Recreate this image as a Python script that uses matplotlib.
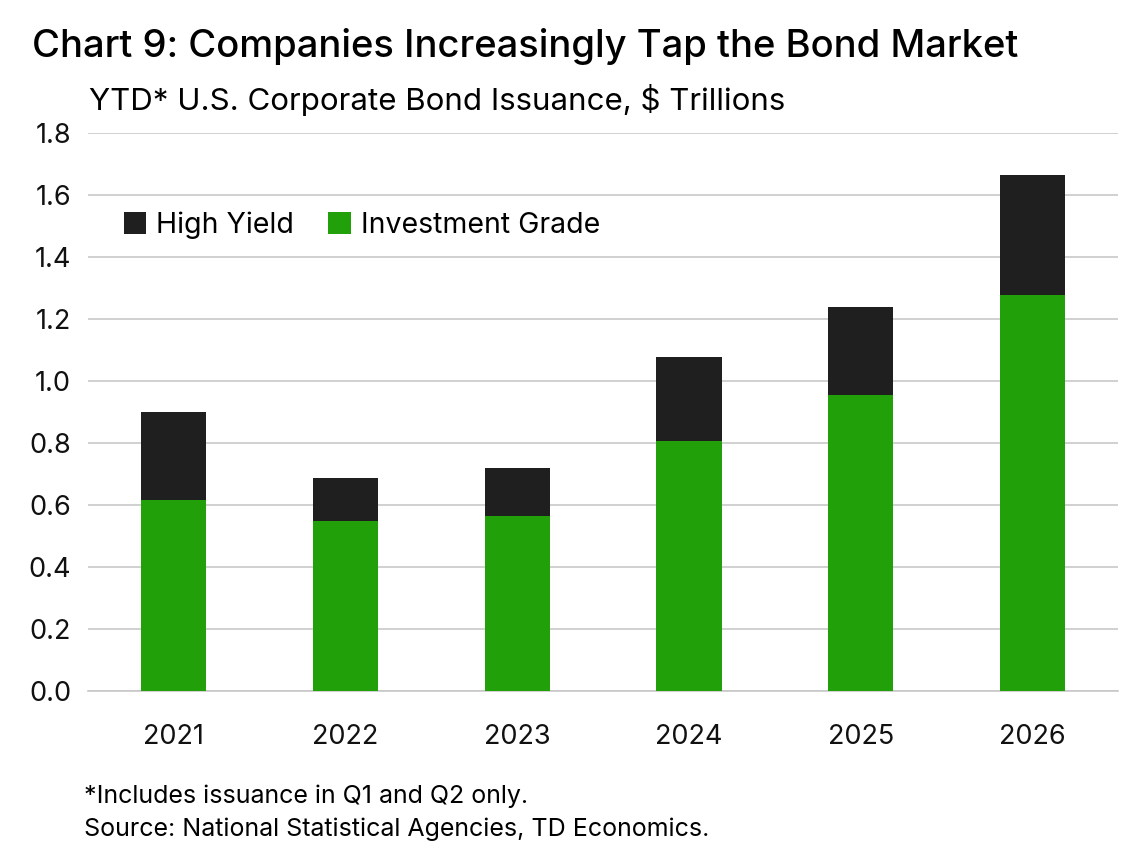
import numpy as np
import matplotlib.pyplot as plt

# data
years = ['2021', '2022', '2023', '2024', '2025', '2026']
invest_grade = [0.616, 0.548, 0.565, 0.806, 0.955, 1.277]
high_yield = [0.284, 0.139, 0.154, 0.271, 0.284, 0.388]

plt.rcParams['font.family'] = ['Inter', 'DejaVu Sans']

fig = plt.figure(figsize=(11.39, 8.51), dpi=100)
ax = fig.add_axes([0.077, 0.188, 0.905, 0.656])

x = np.arange(len(years))
ax.bar(x, invest_grade, width=0.38, color='#22a00a', label='Investment Grade', zorder=3)
ax.bar(x, high_yield, width=0.38, bottom=invest_grade, color='#1f1f1f', label='High Yield', zorder=3)

ax.set_ylim(0, 1.8)
ax.set_xlim(-0.5, 5.5)
ax.set_yticks(np.arange(0, 1.81, 0.2))
ax.set_yticklabels([f'{v:.1f}' for v in np.arange(0, 1.81, 0.2)])
ax.set_xticks(x)
ax.set_xticklabels(years)
ax.tick_params(axis='both', length=0, labelsize=19.5, colors='#111111')
ax.tick_params(axis='x', pad=24)
ax.tick_params(axis='y', pad=12)
ax.grid(axis='y', color='#c8c8c8', linewidth=1.2, zorder=0)
for s in ['top', 'right', 'left']:
    ax.spines[s].set_visible(False)
ax.spines['bottom'].set_color('#c8c8c8')
ax.spines['bottom'].set_linewidth(1.2)

h, l = ax.get_legend_handles_labels()
ax.legend(h[::-1], l[::-1], loc='upper left', bbox_to_anchor=(0.01, 0.905), ncol=2,
          frameon=False, fontsize=20.5, handlelength=0.8, handleheight=0.8,
          handletextpad=0.35, columnspacing=1.2)

fig.text(0.028, 0.945, 'Chart 9: Companies Increasingly Tap the Bond Market',
         fontsize=27.5, fontweight='medium', va='center')
fig.text(0.078, 0.882, 'YTD* U.S. Corporate Bond Issuance, $ Trillions',
         fontsize=22.5, va='center')
fig.text(0.074, 0.064, '*Includes issuance in Q1 and Q2 only.', fontsize=18, va='center')
fig.text(0.074, 0.025, 'Source: National Statistical Agencies, TD Economics.', fontsize=18, va='center')

fig.savefig('out.png', dpi=100)
